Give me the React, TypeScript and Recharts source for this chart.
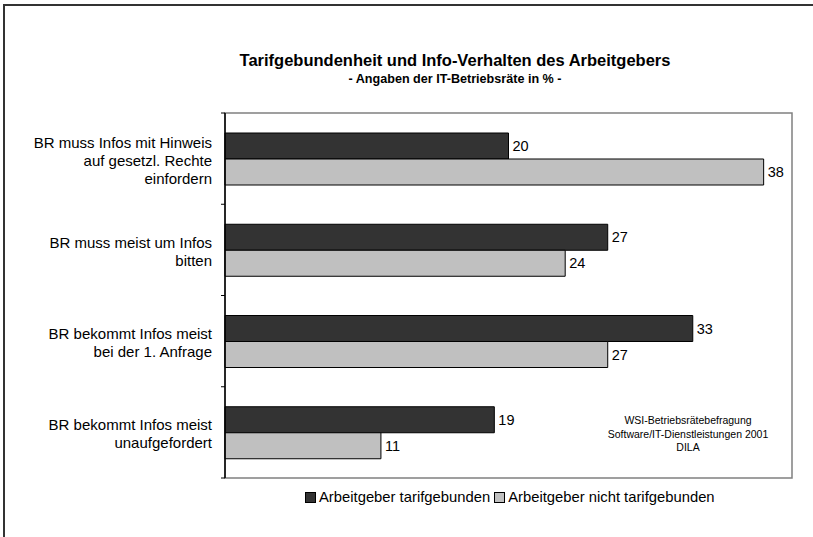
import React from "react";
import { BarChart, Bar, XAxis, YAxis, LabelList, ReferenceArea } from "recharts";

const categories = [
  "BR muss Infos mit Hinweis\nauf gesetzl. Rechte\neinfordern",
  "BR muss meist um Infos\nbitten",
  "BR bekommt Infos meist\nbei der 1. Anfrage",
  "BR bekommt Infos meist\nunaufgefordert",
];
const tarifgebunden = [20, 27, 33, 19];
const nichtTarifgebunden = [38, 24, 27, 11];
const seriesNames = ["Arbeitgeber tarifgebunden", "Arbeitgeber nicht tarifgebunden"];
const seriesColors = ["#333333", "#c0c0c0"];
const xDomain = [0, 40];

const FONT = '"Liberation Sans", Arial, Helvetica, sans-serif';

const data = categories.map((name, i) => ({
  name,
  a: tarifgebunden[i],
  b: nichtTarifgebunden[i],
}));

const CHART_W = 813;
const CHART_H = 537;
const margin = { top: 113, right: 21, bottom: 59, left: 0 };
const Y_AXIS_W = 225;

// multi-line category label + small tick marks on the band boundaries
function CategoryTick(props: any) {
  const { x, y, payload, index } = props;
  const lines = String(payload.value).split("\n");
  const lineH = 18;
  const half =
    typeof payload.offset === "number" && payload.offset > 5
      ? payload.offset
      : (CHART_H - margin.top - margin.bottom) / categories.length / 2;
  const startY = y - ((lines.length - 1) * lineH) / 2 + 1;
  return (
    <g>
      <text
        x={x - 13}
        y={startY}
        textAnchor="end"
        dominantBaseline="central"
        fontFamily={FONT}
        fontSize={15}
        fill="#000"
      >
        {lines.map((l, i) => (
          <tspan key={i} x={x - 13} y={startY + i * lineH}>
            {l}
          </tspan>
        ))}
      </text>
      {index === 0 && (
        <line x1={x - 4} x2={x} y1={y - half} y2={y - half} stroke="#000" strokeWidth={1} />
      )}
      <line x1={x - 4} x2={x} y1={y + half} y2={y + half} stroke="#000" strokeWidth={1} />
    </g>
  );
}

function LegendSwatch({ color }: { color: string }) {
  return (
    <span
      style={{
        display: "inline-block",
        width: 9,
        height: 9,
        background: color,
        border: "1px solid #000",
        marginRight: 3,
      }}
    />
  );
}

export default function App() {
  return (
    <div
      style={{
        position: "fixed",
        left: 0,
        top: 0,
        width: CHART_W,
        height: CHART_H,
        overflow: "hidden",
        background: "#fff",
        fontFamily: FONT,
      }}
    >
      {/* outer frame, only top and left edges are visible */}
      <div style={{ position: "absolute", left: 3, top: 4, width: CHART_W - 3, height: 2, background: "#333" }} />
      <div style={{ position: "absolute", left: 3, top: 4, width: 2, height: CHART_H - 4, background: "#333" }} />
      <div
        style={{
          position: "absolute",
          left: 155,
          width: 600,
          top: 50,
          lineHeight: "20px",
          textAlign: "center",
          fontWeight: "bold",
          fontSize: 16.5,
        }}
      >
        Tarifgebundenheit und Info-Verhalten des Arbeitgebers
      </div>
      <div
        style={{
          position: "absolute",
          left: 155,
          width: 600,
          top: 70,
          lineHeight: "18px",
          textAlign: "center",
          fontWeight: "bold",
          fontSize: 12.6,
        }}
      >
        - Angaben der IT-Betriebsräte in % -
      </div>
      <div style={{ position: "absolute", left: 0, top: 0 }}>
        <BarChart
          width={CHART_W}
          height={CHART_H}
          data={data}
          layout="vertical"
          margin={margin}
          barGap={0}
          barSize={26}
          accessibilityLayer={false}
        >
          <XAxis type="number" domain={xDomain} hide />
          <ReferenceArea
            x1={xDomain[0]}
            x2={xDomain[1]}
            fill="none"
            stroke="#808080"
            strokeWidth={1.5}
          />
          <Bar
            dataKey="a"
            name={seriesNames[0]}
            fill={seriesColors[0]}
            stroke="#000"
            strokeWidth={1}
            isAnimationActive={false}
          >
            <LabelList
              dataKey="a"
              position="right"
              offset={4}
              fill="#000"
              fontSize={14.5}
              fontFamily={FONT}
            />
          </Bar>
          <Bar
            dataKey="b"
            name={seriesNames[1]}
            fill={seriesColors[1]}
            stroke="#000"
            strokeWidth={1}
            isAnimationActive={false}
          >
            <LabelList
              dataKey="b"
              position="right"
              offset={4}
              fill="#000"
              fontSize={14.5}
              fontFamily={FONT}
            />
          </Bar>
          <YAxis
            type="category"
            dataKey="name"
            width={Y_AXIS_W}
            axisLine={{ stroke: "#000", strokeWidth: 1.5 }}
            tickLine={false}
            tickSize={0}
            tickMargin={0}
            interval={0}
            tick={<CategoryTick />}
          />
        </BarChart>
      </div>
      <div
        style={{
          position: "absolute",
          left: 588,
          width: 200,
          top: 414,
          lineHeight: "13.5px",
          textAlign: "center",
          fontSize: 10.5,
          color: "#000",
        }}
      >
        WSI-Betriebsrätebefragung
        <br />
        Software/IT-Dienstleistungen 2001
        <br />
        DILA
      </div>
      <div
        style={{
          position: "absolute",
          left: 305,
          top: 488,
          lineHeight: "18px",
          fontSize: 14.8,
          display: "flex",
          alignItems: "center",
          whiteSpace: "nowrap",
        }}
      >
        <LegendSwatch color={seriesColors[0]} />
        <span>{seriesNames[0]}</span>
        <span style={{ marginLeft: 4 }} />
        <LegendSwatch color={seriesColors[1]} />
        <span>{seriesNames[1]}</span>
      </div>
    </div>
  );
}
